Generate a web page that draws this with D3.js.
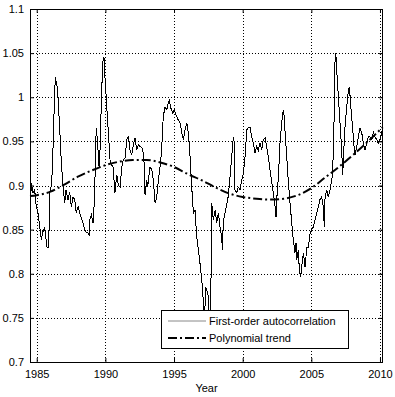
<!DOCTYPE html>
<html>
<head>
<meta charset="utf-8">
<script src="https://cdn.jsdelivr.net/npm/d3@7/dist/d3.min.js"></script>
<style>
  html, body { margin: 0; padding: 0; background: #fff; }
  svg { display: block; }
  text { font-family: "Liberation Sans", Arial, Helvetica, sans-serif; fill: #000; }
</style>
</head>
<body>
<svg id="chart" width="395" height="397"></svg>
<script>
// ---- Data ----
const years = [
  1984.51,1984.56,1984.61,1984.73,1984.85,1984.97,1985.10,1985.22,1985.34,1985.41,
  1985.51,1985.58,1985.66,1985.75,1985.82,1985.90,1985.95,1986.02,1986.11,1986.19,
  1986.31,1986.37,1986.43,1986.48,1986.55,1986.68,1986.79,1986.92,1987.04,1987.13,
  1987.28,1987.40,1987.52,1987.64,1987.77,1987.88,1988.01,1988.13,1988.23,1988.37,
  1988.50,1988.61,1988.74,1988.81,1988.86,1988.98,1989.10,1989.22,1989.28,1989.34,
  1989.43,1989.54,1989.61,1989.73,1989.83,1989.89,1989.94,1989.97,1990.10,1990.22,
  1990.34,1990.46,1990.56,1990.70,1990.83,1990.94,1991.07,1991.19,1991.31,1991.43,
  1991.56,1991.67,1991.80,1991.92,1992.04,1992.16,1992.28,1992.40,1992.52,1992.65,
  1992.76,1992.84,1992.89,1993.01,1993.08,1993.18,1993.25,1993.38,1993.49,1993.62,
  1993.74,1993.86,1993.98,1994.10,1994.16,1994.22,1994.34,1994.47,1994.59,1994.66,
  1994.76,1994.91,1995.00,1995.15,1995.31,1995.44,1995.56,1995.68,1995.80,1995.93,
  1996.04,1996.17,1996.29,1996.41,1996.53,1996.65,1996.77,1996.89,1997.02,1997.13,
  1997.21,1997.31,1997.38,1997.50,1997.57,1997.66,1997.75,1997.86,1997.99,1998.11,
  1998.23,1998.35,1998.47,1998.52,1998.59,1998.71,1998.84,1998.96,1999.08,1999.20,
  1999.32,1999.39,1999.44,1999.57,1999.68,1999.81,1999.93,2000.05,2000.17,2000.30,
  2000.41,2000.54,2000.66,2000.78,2000.90,2001.02,2001.14,2001.26,2001.39,2001.50,
  2001.63,2001.75,2001.87,2001.99,2002.12,2002.23,2002.36,2002.43,2002.48,2002.60,
  2002.72,2002.84,2002.96,2003.03,2003.08,2003.21,2003.33,2003.45,2003.57,2003.69,
  2003.81,2003.89,2003.94,2004.05,2004.13,2004.23,2004.30,2004.42,2004.54,2004.61,
  2004.67,2004.78,2004.91,2005.03,2005.15,2005.27,2005.39,2005.51,2005.63,2005.76,
  2005.87,2005.95,2006.00,2006.12,2006.24,2006.36,2006.49,2006.56,2006.60,2006.68,
  2006.73,2006.78,2006.85,2006.97,2007.09,2007.21,2007.29,2007.33,2007.45,2007.58,
  2007.70,2007.77,2007.87,2007.94,2008.06,2008.13,2008.18,2008.31,2008.42,2008.55,
  2008.67,2008.79,2008.91,2009.04,2009.15,2009.28,2009.40,2009.52,2009.64,2009.76,
  2009.88,2010.00,2010.13,2010.20
];
const acValues = [
  0.901,0.886,0.903,0.892,0.895,0.876,0.869,0.853,0.838,0.846,
  0.850,0.852,0.842,0.830,0.829,0.850,0.892,0.895,0.910,0.944,
  1.008,1.023,1.015,1.013,1.000,0.963,0.926,0.898,0.880,0.895,
  0.884,0.892,0.876,0.887,0.884,0.869,0.876,0.869,0.864,0.858,
  0.850,0.847,0.846,0.844,0.861,0.867,0.858,0.887,0.940,0.965,
  0.949,0.921,0.940,1.008,1.042,1.046,1.040,1.023,0.989,0.960,
  0.929,0.923,0.921,0.892,0.912,0.901,0.898,0.921,0.929,0.931,
  0.952,0.955,0.940,0.935,0.946,0.954,0.940,0.946,0.944,0.943,
  0.937,0.921,0.889,0.906,0.898,0.912,0.921,0.918,0.906,0.880,
  0.887,0.906,0.921,0.940,0.963,0.978,0.989,0.986,0.994,0.996,
  0.988,0.982,0.986,0.980,0.974,0.971,0.960,0.952,0.963,0.971,
  0.960,0.932,0.898,0.869,0.872,0.842,0.827,0.812,0.793,0.770,
  0.745,0.785,0.782,0.774,0.750,0.745,0.880,0.861,0.872,0.858,
  0.869,0.853,0.842,0.827,0.858,0.869,0.878,0.889,0.910,0.932,
  0.955,0.948,0.895,0.892,0.898,0.895,0.906,0.914,0.932,0.963,
  0.966,0.966,0.955,0.948,0.937,0.944,0.940,0.948,0.940,0.952,
  0.954,0.944,0.932,0.918,0.903,0.892,0.876,0.864,0.884,0.910,
  0.948,0.971,0.986,0.978,0.963,0.932,0.903,0.880,0.858,0.838,
  0.824,0.835,0.816,0.827,0.804,0.796,0.808,0.824,0.808,0.819,
  0.830,0.830,0.846,0.850,0.853,0.861,0.869,0.876,0.884,0.887,
  0.876,0.853,0.887,0.895,0.887,0.895,0.906,0.918,0.940,0.989,
  1.046,1.050,1.031,1.000,0.971,0.940,0.912,0.929,0.966,0.989,
  1.008,1.012,0.991,0.978,0.955,0.940,0.935,0.944,0.955,0.965,
  0.960,0.948,0.940,0.948,0.955,0.955,0.952,0.960,0.955,0.952,
  0.948,0.952,0.960,0.966
];
const trendYears = [1984.51,1985,1986,1987,1988,1989,1990,1991,1992,1993,1994,1995,1996,1997,
  1998,1999,2000,2001,2002,2003,2004,2005,2006,2007,2008,2009,2010,2010.20];
const trendValues = [0.888,0.889,0.893,0.901,0.910,0.917,0.923,0.927,0.929,0.929,0.926,0.921,0.913,0.906,
  0.898,0.891,0.887,0.885,0.884,0.885,0.889,0.897,0.909,0.921,0.934,0.948,0.963,0.966];
const xTicks = [1985, 1990, 1995, 2000, 2005, 2010];
const yTicks = [0.7, 0.75, 0.8, 0.85, 0.9, 0.95, 1, 1.05, 1.1];
const xDomain = [1984.51, 2010.22];
const yDomain = [0.7, 1.1];
const seriesNames = ["First-order autocorrelation", "Polynomial trend"];
const xLabel = "Year";

// ---- Layout ----
const svg = d3.select("#chart");
const L = 30, R = 383, T = 9, B = 362;
const x = d3.scaleLinear().domain(xDomain).range([L, R]);
const y = d3.scaleLinear().domain(yDomain).range([B, T]);

svg.append("rect").attr("width", 395).attr("height", 397).attr("fill", "#fff");

// grid
const grid = svg.append("g").attr("stroke", "#000").attr("stroke-width", 1)
  .attr("stroke-dasharray", "1,2").attr("shape-rendering", "crispEdges");
grid.selectAll(".vg").data(xTicks).join("line")
  .attr("x1", d => Math.round(x(d)) + 0.5).attr("x2", d => Math.round(x(d)) + 0.5)
  .attr("y1", T).attr("y2", B);
grid.selectAll(".hg").data(yTicks.filter(d => d > 0.7 && d < 1.1)).join("line")
  .attr("y1", d => Math.round(y(d)) + 0.5).attr("y2", d => Math.round(y(d)) + 0.5)
  .attr("x1", L).attr("x2", R);

// series
const idx = d3.range(years.length);
svg.append("path")
  .datum(idx)
  .attr("fill", "none").attr("stroke", "#000").attr("stroke-width", 1)
  .attr("shape-rendering", "crispEdges")
  .attr("d", d3.line().x(i => x(years[i])).y(i => y(acValues[i])));

// trend
const tIdx = d3.range(trendYears.length);
svg.append("path")
  .datum(tIdx)
  .attr("fill", "none").attr("stroke", "#000").attr("stroke-width", 2)
  .attr("stroke-dasharray", "9,3,2,3")
  .attr("d", d3.line().curve(d3.curveMonotoneX).x(i => x(trendYears[i])).y(i => y(trendValues[i])));

// axes
const axB = svg.append("g").attr("transform", `translate(0,${B})`)
  .call(d3.axisBottom(x).tickValues(xTicks).tickFormat(d3.format("d")).tickSizeInner(-4).tickSizeOuter(0).tickPadding(8));
const axL = svg.append("g").attr("transform", `translate(${L},0)`)
  .call(d3.axisLeft(y).tickValues(yTicks).tickFormat(d => String(d)).tickSizeInner(-4).tickSizeOuter(0).tickPadding(6));
const axT = svg.append("g").attr("transform", `translate(0,${T})`)
  .call(d3.axisTop(x).tickValues(xTicks).tickFormat("").tickSizeInner(-4).tickSizeOuter(0));
const axR = svg.append("g").attr("transform", `translate(${R},0)`)
  .call(d3.axisRight(y).tickValues(yTicks).tickFormat("").tickSizeInner(-4).tickSizeOuter(0));
[axB, axL, axT, axR].forEach(g => {
  g.select(".domain").remove();
  g.selectAll("line").attr("stroke", "#000");
  g.selectAll("text").attr("font-size", 11).attr("font-family", "'Liberation Sans', Arial, sans-serif").attr("fill", "#000");
});
// frame
svg.append("rect").attr("x", L + 0.5).attr("y", T + 0.5).attr("width", R - L - 1).attr("height", B - T)
  .attr("fill", "none").attr("stroke", "#000").attr("stroke-width", 1);

// x label
svg.append("text").attr("x", (L + R) / 2).attr("y", 392).attr("text-anchor", "middle")
  .attr("font-size", 11).text(xLabel);

// legend
const lg = svg.append("g");
lg.append("rect").attr("x", 161.5).attr("y", 310.5).attr("width", 187).attr("height", 38)
  .attr("fill", "#fff").attr("stroke", "#000").attr("stroke-width", 1);
lg.append("line").attr("x1", 168).attr("x2", 206).attr("y1", 321).attr("y2", 321)
  .attr("stroke", "#888").attr("stroke-width", 1);
lg.append("line").attr("x1", 168).attr("x2", 206).attr("y1", 338).attr("y2", 338)
  .attr("stroke", "#000").attr("stroke-width", 2).attr("stroke-dasharray", "9,3,2,3");
lg.selectAll("text.lt").data(seriesNames).join("text")
  .attr("x", 209).attr("y", (d, i) => 325 + i * 17).attr("font-size", 11).text(d => d);
</script>
</body>
</html>
